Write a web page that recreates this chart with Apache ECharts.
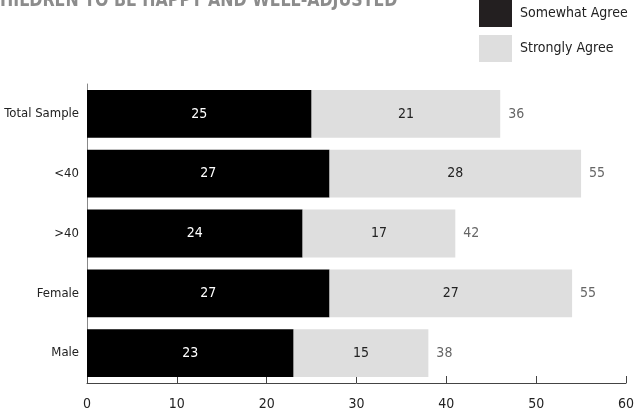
<!DOCTYPE html>
<html>
<head>
<meta charset="utf-8">
<script src="https://cdn.jsdelivr.net/npm/echarts@6/dist/echarts.min.js"></script>
<style>
  html, body { margin: 0; padding: 0; background: #fff; }
  #chart { width: 634px; height: 414px; }
</style>
</head>
<body>
<div id="chart"></div>
<script>
// Survey groups, top to bottom
const categories = ['Total Sample', '<40', '>40', 'Female', 'Male'];
// Share of respondents per answer
const somewhatAgree = [25, 27, 24, 27, 23];
const stronglyAgree = [21, 28, 17, 27, 15];
// Figures printed after each bar
const endLabels = [36, 55, 42, 55, 38];
// Value axis ticks
const xTicks = [0, 10, 20, 30, 40, 50, 60];

const FONT = '"DejaVu Sans Condensed", "Liberation Sans Narrow", "Roboto", sans-serif';

const chart = echarts.init(document.getElementById('chart'));
chart.setOption({
  animation: false,
  textStyle: { fontFamily: FONT },
  graphic: [{
    type: 'text',
    x: 0,
    y: -9,
    scaleX: 0.88,
    style: {
      text: 'HILDREN TO BE HAPPY AND WELL-ADJUSTED',
      font: 'bold 20px ' + FONT,
      fill: '#8c8c8c'
    }
  }],
  legend: {
    orient: 'vertical',
    left: 479,
    top: 0,
    itemWidth: 33,
    itemHeight: 27,
    itemGap: 8,
    padding: 0,
    icon: 'rect',
    textStyle: { fontFamily: FONT, fontSize: 14, color: '#222', padding: [0, 0, 0, 3] },
    data: [
      { name: 'Somewhat Agree', itemStyle: { color: '#231f20' } },
      { name: 'Strongly Agree', itemStyle: { color: '#dedede' } }
    ]
  },
  grid: { left: 87, right: 8, top: 84, bottom: 31, containLabel: false, outerBoundsMode: 'none' },
  xAxis: {
    type: 'value',
    min: xTicks[0],
    max: xTicks[xTicks.length - 1],
    interval: 10,
    axisLine: { show: true, lineStyle: { color: '#444', width: 1 } },
    axisTick: { show: true, inside: true, length: 7, lineStyle: { color: '#444' } },
    splitLine: { show: false },
    axisLabel: { fontFamily: FONT, fontSize: 14, color: '#222', margin: 14 }
  },
  yAxis: {
    type: 'category',
    data: categories,
    inverse: true,
    axisLine: { show: true, lineStyle: { color: '#888', width: 1 } },
    axisTick: { show: false },
    axisLabel: { fontFamily: FONT, fontSize: 13, color: '#222', margin: 8 }
  },
  series: [
    {
      name: 'Somewhat Agree',
      type: 'bar',
      stack: 'agree',
      barCategoryGap: '20%',
      data: somewhatAgree,
      itemStyle: { color: '#000' },
      label: { show: true, position: 'inside', color: '#fff', fontFamily: FONT, fontSize: 14 }
    },
    {
      name: 'Strongly Agree',
      type: 'bar',
      stack: 'agree',
      barCategoryGap: '20%',
      data: stronglyAgree,
      itemStyle: { color: '#dedede' },
      label: { show: true, position: 'inside', color: '#222', fontFamily: FONT, fontSize: 14 }
    },
    {
      name: 'end',
      type: 'bar',
      stack: 'agree',
      barCategoryGap: '20%',
      data: stronglyAgree.map(() => 0),
      itemStyle: { color: 'transparent' },
      silent: true,
      label: {
        show: true,
        position: 'right',
        distance: 8,
        color: '#666',
        fontFamily: FONT,
        fontSize: 14,
        formatter: p => String(endLabels[p.dataIndex])
      }
    }
  ]
});
</script>
</body>
</html>
